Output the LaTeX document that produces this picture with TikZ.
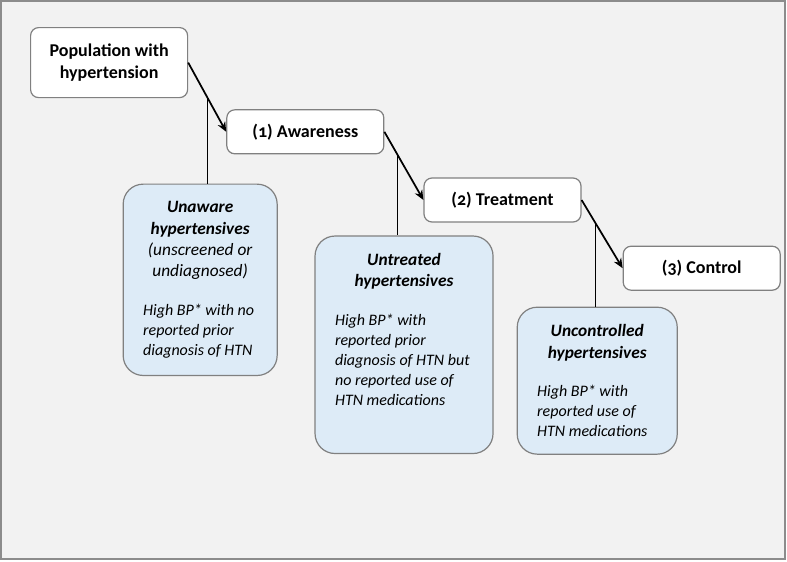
\documentclass[tikz,border=0pt]{standalone}
\usepackage{fontspec}
\setmainfont{Carlito}[Numbers=OldStyle]
\usetikzlibrary{positioning,arrows.meta,calc}
\definecolor{htframe}{RGB}{140,140,140}
\definecolor{htback}{RGB}{242,242,242}
\definecolor{htedge}{RGB}{128,128,128}
\definecolor{htblue}{RGB}{221,235,247}
\tikzset{
  stage/.style={draw=htedge, line width=0.9pt, rounded corners=6pt, fill=white, align=flush center, minimum width=117.75pt, minimum height=33pt, font=\bfseries\fontsize{13.5}{16}\selectfont},
  group/.style={draw=htedge, line width=0.9pt, rounded corners=15pt, fill=htblue, align=flush left, inner xsep=15pt, inner ysep=13pt, font=\itshape\fontsize{13}{16}\selectfont},
  arrow/.style={-{Stealth[length=2.6mm, width=2.2mm]}, line width=1.3pt},
  stem/.style={line width=1pt}
}
\newcommand{\grouphead}[1]{{\centering\bfseries #1\par}\vspace{14pt}}
\newcommand{\groupnote}[1]{{\fontsize{12}{15}\selectfont #1\par}}

\begin{document}
\begin{tikzpicture}
    \useasboundingbox (0,0) rectangle (590.25pt,-420.75pt);
    \draw[htframe, line width=1.5pt, fill=htback] (0.75pt,-0.75pt) rectangle (588.75pt,-419.25pt);
    % cascade of stages
    \node[stage, minimum height=52.5pt, anchor=north west] (pop) at (22.5pt,-20.25pt) {Population with\\hypertension};
    \node[stage, below right=8.25pt and 28.5pt of pop] (aware) {(1) Awareness};
    \node[stage, below right=17.25pt and 29.25pt of aware] (treat) {(2) Treatment};
    \node[stage, below right=17.25pt and 30.75pt of treat] (ctrl) {(3) Control};
    \draw[arrow] (pop.east) -- (aware.west);
    \draw[arrow] (aware.east) -- (treat.west);
    \draw[arrow] (treat.east) -- (ctrl.west);
    \coordinate (s1) at (intersection of pop.east--aware.west and pop.south west--pop.south east);
    \coordinate (s2) at (intersection of aware.east--treat.west and aware.south west--aware.south east);
    \coordinate (s3) at (intersection of treat.east--ctrl.west and treat.south west--treat.south east);
    % groups that drop out
    \node[group, text width=85.5pt, below=64pt of s1, xshift=-5.7pt] (unaware) {%
      \grouphead{Unaware\\hypertensives\\\mdseries(unscreened or\\undiagnosed)}%
      \groupnote{High BP* with no\\reported prior\\diagnosis of HTN}};
    \node[group, text width=103.5pt, below=60.75pt of s2, xshift=5pt] (untreated) {%
      \grouphead{Untreated\\hypertensives}%
      \groupnote{High BP* with\\reported prior\\diagnosis of HTN but\\no reported use of\\HTN medications\rule[-23pt]{0pt}{1pt}}};
    \node[group, text width=90pt, below=63pt of s3, xshift=1.5pt] (uncontrolled) {%
      \grouphead{Uncontrolled\\hypertensives}%
      \groupnote{High BP* with\\reported use of\\HTN medications}};
    \draw[stem] (s1) -- (s1 |- unaware.north);
    \draw[stem] (s2) -- (s2 |- untreated.north);
    \draw[stem] (s3) -- (s3 |- uncontrolled.north);
\end{tikzpicture}
\end{document}
